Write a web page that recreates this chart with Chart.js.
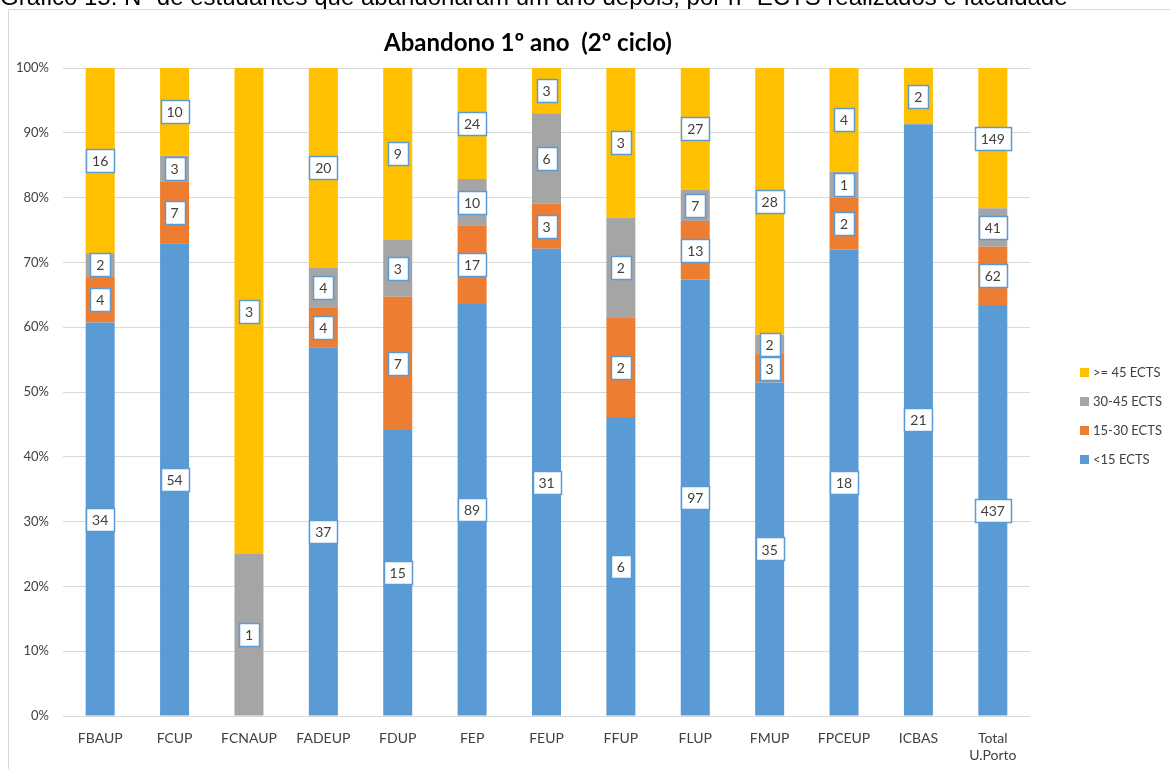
<!DOCTYPE html>
<html>
<head>
<meta charset="utf-8">
<title>Abandono 1º ano (2º ciclo)</title>
<script src="https://cdn.jsdelivr.net/npm/chart.js@4.4.1/dist/chart.umd.min.js"></script>
<style>
  body { margin: 0; background: #fff; }
  #wrap { position: relative; width: 1170px; height: 769px; }
</style>
</head>
<body>
<div id="wrap"><canvas id="abandonoChart"></canvas></div>
<script>
const faculdades = ["FBAUP", "FCUP", "FCNAUP", "FADEUP", "FDUP", "FEP", "FEUP",
  "FFUP", "FLUP", "FMUP", "FPCEUP", "ICBAS", ["Total", "U.Porto"]];
const menos15 = [34, 54, 0, 37, 15, 89, 31, 6, 97, 35, 18, 21, 437];
const de15a30 = [4, 7, 0, 4, 7, 17, 3, 2, 13, 3, 2, 0, 62];
const de30a45 = [2, 3, 1, 4, 3, 10, 6, 2, 7, 2, 1, 0, 41];
const mais45 = [16, 10, 3, 20, 9, 24, 3, 3, 27, 28, 4, 2, 149];
const serieNomes = ["<15 ECTS", "15-30 ECTS", "30-45 ECTS", ">= 45 ECTS"];
const serieCores = ["#5B9BD5", "#ED7D31", "#A5A5A5", "#FFC000"];
const legenda = "Gráfico 15: Nº de estudantes que abandonaram um ano depois, por nº ECTS realizados e faculdade";
const titulo = "Abandono 1º ano  (2º ciclo)";

const series = [menos15, de15a30, de30a45, mais45];
const totais = menos15.map((v, i) => v + de15a30[i] + de30a45[i] + mais45[i]);
const pct = (arr) => arr.map((v, i) => (v / totais[i]) * 100);

const FONT = "Lato, 'Open Sans', sans-serif";

// caption cut off at the top, outer frame and chart title
const framePlugin = {
  id: "frame",
  beforeDraw(chart) {
    const c = chart.ctx;
    c.save();
    c.fillStyle = "#000";
    c.font = "24px 'Liberation Sans', Arial, sans-serif";
    c.textBaseline = "alphabetic";
    c.textAlign = "left";
    c.fillText(legenda, 0, 5);
    c.strokeStyle = "#D9D9D9";
    c.lineWidth = 1;
    c.beginPath();
    c.moveTo(8.5, chart.height);
    c.lineTo(8.5, 9.5);
    c.lineTo(chart.width, 9.5);
    c.stroke();
    c.fillStyle = "#000";
    c.font = "bold 24px " + FONT;
    c.textAlign = "center";
    c.textBaseline = "middle";
    c.fillText(titulo, 528, 43);
    c.restore();
  },
};

// number boxes on each segment
const labelsPlugin = {
  id: "boxLabels",
  afterDatasetsDraw(chart) {
    const c = chart.ctx;
    c.save();
    c.font = "14px " + FONT;
    c.textAlign = "center";
    c.textBaseline = "middle";
    chart.data.datasets.forEach((ds, di) => {
      const meta = chart.getDatasetMeta(di);
      meta.data.forEach((bar, i) => {
        const n = series[di][i];
        if (!n) return;
        const cy = (bar.y + bar.base) / 2;
        const txt = String(n);
        const w = Math.round(c.measureText(txt).width) + 12;
        const h = 23;
        const x0 = Math.round(bar.x - w / 2) + 0.5;
        const y0 = Math.round(cy - h / 2) + 0.5;
        c.fillStyle = "#fff";
        c.fillRect(x0, y0, w, h);
        c.strokeStyle = "#5B9BD5";
        c.lineWidth = 1.5;
        c.strokeRect(x0, y0, w, h);
        c.fillStyle = "#404040";
        c.fillText(txt, bar.x, cy + 1);
      });
    });
    c.restore();
  },
};

// legend on the right, reversed order
const legendPlugin = {
  id: "rightLegend",
  afterDraw(chart) {
    const c = chart.ctx;
    c.save();
    c.font = "13px " + FONT;
    c.textBaseline = "middle";
    c.textAlign = "left";
    for (let k = 0; k < 4; k++) {
      const si = 3 - k;
      const y = 372 + k * 29;
      c.fillStyle = serieCores[si];
      c.fillRect(1080, y - 4, 9, 9);
      c.fillStyle = "#404040";
      c.fillText(serieNomes[si], 1093, y + 1);
    }
    c.restore();
  },
};

document.addEventListener("DOMContentLoaded", function () {
  const ctx = document.getElementById("abandonoChart").getContext("2d");
  const abandonoChart = new Chart(ctx, {
    type: "bar",
    data: {
      labels: faculdades,
      datasets: series.map((arr, i) => ({
        label: serieNomes[i],
        data: pct(arr),
        backgroundColor: serieCores[i],
        borderWidth: 0,
        barPercentage: 0.39,
        categoryPercentage: 1,
      })),
    },
    options: {
      responsive: true,
      maintainAspectRatio: false,
      animation: false,
      layout: {
        padding: { top: 68, right: 140, left: 0, bottom: 0 },
      },
      plugins: {
        legend: { display: false },
        tooltip: { enabled: false },
      },
      scales: {
        x: {
          stacked: true,
          grid: { display: false },
          border: { display: false },
          ticks: {
            color: "#404040",
            font: { family: FONT, size: 14 },
            padding: 6,
            maxRotation: 0,
            autoSkip: false,
          },
          afterFit(scale) {
            scale.height = 53;
          },
        },
        y: {
          stacked: true,
          min: 0,
          max: 100,
          grid: { color: "#D9D9D9", lineWidth: 1, drawTicks: false },
          border: { display: false },
          ticks: {
            stepSize: 10,
            color: "#404040",
            font: { family: FONT, size: 13 },
            padding: 14,
            callback: (v) => v + "%",
          },
          afterFit(scale) {
            scale.width = 63;
          },
        },
      },
    },
    plugins: [framePlugin, labelsPlugin, legendPlugin],
  });
});
</script>
</body>
</html>
